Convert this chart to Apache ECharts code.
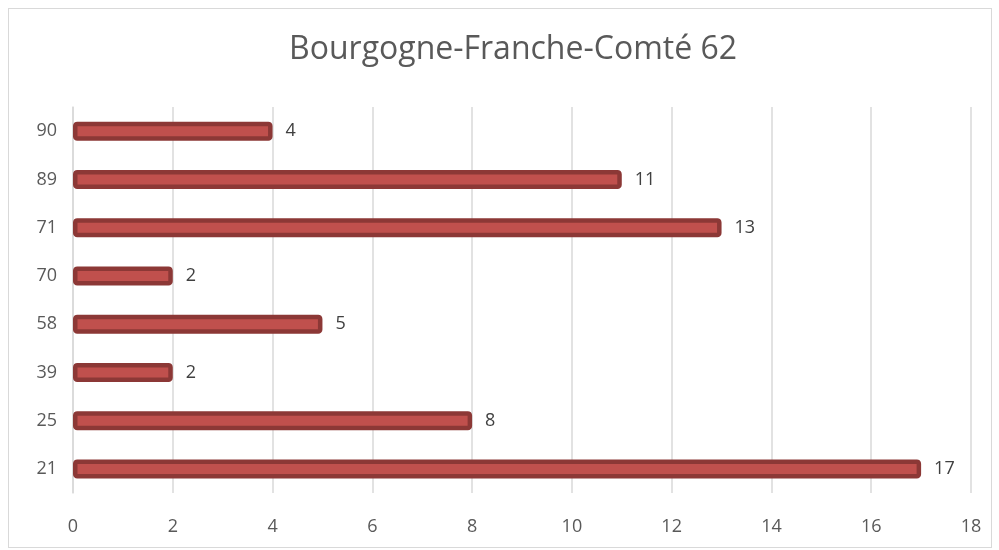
<!DOCTYPE html>
<html>
<head>
<meta charset="utf-8">
<script src="https://cdn.jsdelivr.net/npm/echarts@6/dist/echarts.min.js"></script>
<style>
  html, body { margin: 0; padding: 0; background: #fff; }
  #box { position: absolute; left: 8px; top: 8px; width: 984px; height: 540px; border: 1px solid #d9d9d9; box-sizing: border-box; }
  #chart { width: 999px; height: 550px; }
</style>
</head>
<body>
<div id="box"></div>
<div id="chart"></div>
<script>
var categories = ['21', '25', '39', '58', '70', '71', '89', '90'];
var values = [17, 8, 2, 5, 2, 13, 11, 4];
var xTicks = [0, 2, 4, 6, 8, 10, 12, 14, 16, 18];

var chart = echarts.init(document.getElementById('chart'));

var option = {
  animation: false,
  title: {
    text: 'Bourgogne-Franche-Comté 62',
    left: 284,
    top: 29,
    textStyle: {
      fontFamily: 'Open Sans',
      fontSize: 32,
      fontWeight: 'normal',
      color: '#595959'
    }
  },
  grid: {
    left: 73,
    right: 28,
    top: 107,
    bottom: 57
  },
  xAxis: {
    type: 'value',
    min: xTicks[0],
    max: xTicks[xTicks.length - 1],
    interval: 2,
    axisLine: { show: false },
    axisTick: { show: false },
    splitLine: { lineStyle: { color: '#d9d9d9', width: 1.5 } },
    axisLabel: {
      color: '#595959',
      fontFamily: 'Open Sans',
      fontSize: 18,
      margin: 25
    }
  },
  yAxis: {
    type: 'category',
    data: categories,
    axisLine: { show: true, lineStyle: { color: '#d9d9d9', width: 1.5 } },
    axisTick: { show: false },
    axisLabel: {
      color: '#595959',
      fontFamily: 'Open Sans',
      fontSize: 18,
      margin: 16
    }
  },
  series: [{
    type: 'bar',
    data: values,
    barWidth: 19,
    itemStyle: {
      color: '#C0504D',
      borderColor: '#8C3836',
      borderWidth: 4.5,
      borderRadius: 2
    },
    label: {
      show: true,
      position: 'right',
      distance: 13,
      color: '#404040',
      fontFamily: 'Open Sans',
      fontSize: 18
    }
  }]
};

chart.setOption(option);
</script>
</body>
</html>
